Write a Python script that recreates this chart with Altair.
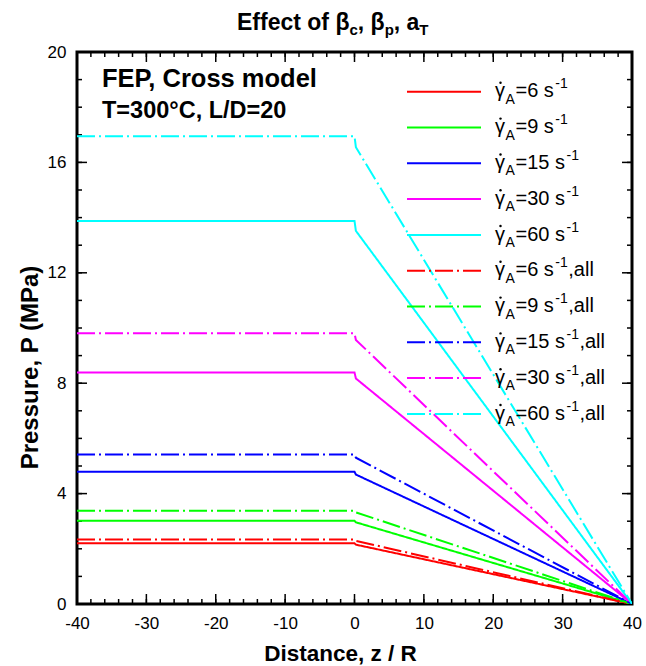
import altair as alt
import pandas as pd

# ---------------- data ----------------
rates = [6, 9, 15, 30, 60]
colors = ["#ff0000", "#00ff00", "#0000ff", "#ff00ff", "#00ffff"]
z_knots = [-40, 0, 0.2, 40]
p_flat_base = [2.20, 3.02, 4.79, 8.39, 13.88]
p_drop_base = [2.15, 2.96, 4.69, 8.17, 13.52]
p_flat_all = [2.34, 3.38, 5.42, 9.81, 16.95]
p_drop_all = [2.29, 3.32, 5.30, 9.57, 16.55]
p_exit = [0.0, 0.0, 0.0, 0.0, 0.0]
x_major = [-40, -30, -20, -10, 0, 10, 20, 30, 40]
x_minor = list(range(-40, 41, 2))
y_major = [0, 4, 8, 12, 16, 20]
y_minor = list(range(0, 21, 1))

W, H = 555, 552
FONT = "Liberation Sans"
XMIN, XMAX, YMIN, YMAX = -40, 40, 0, 20

rows = []
for kind, flat, drop in [("base", p_flat_base, p_drop_base), ("all", p_flat_all, p_drop_all)]:
    for i, r in enumerate(rates):
        ps = [flat[i], flat[i], drop[i], p_exit[i]]
        for k, (z, p) in enumerate(zip(z_knots, ps)):
            rows.append(dict(series=f"{r}-{kind}", rate=str(r), kind=kind, z=z, p=p, k=k))
df = pd.DataFrame(rows)

x_scale = alt.Scale(domain=[XMIN, XMAX], nice=False, zero=False)
y_scale = alt.Scale(domain=[YMIN, YMAX], nice=False, zero=False)

x_axis = alt.Axis(values=x_major, ticks=False, domain=False, grid=False, labelFlush=False,
                  labelExpr="'' + datum.value",
                  labelFont=FONT, labelFontSize=17, labelColor="black", labelPadding=11,
                  title="Distance, z / R", titleFont=FONT, titleFontSize=22.5, titleFontWeight="bold",
                  titleColor="black", titlePadding=11, titleX=263)
y_axis = alt.Axis(values=y_major, ticks=False, domain=False, grid=False, labelFlush=False,
                  labelExpr="'' + datum.value",
                  labelFont=FONT, labelFontSize=17, labelColor="black", labelPadding=11,
                  title="Pressure, P (MPa)", titleFont=FONT, titleFontSize=24, titleFontWeight="bold",
                  titleColor="black", titlePadding=5, titleY=315)


def xenc(field="z"):
    return alt.X(f"{field}:Q", scale=x_scale, axis=x_axis)


def yenc(field="p"):
    return alt.Y(f"{field}:Q", scale=y_scale, axis=y_axis)


DASHDOT = [18, 4, 2, 4]

lines = alt.Chart(df).mark_line(strokeWidth=2, clip=True).encode(
    x=xenc(), y=yenc(),
    color=alt.Color("rate:N", scale=alt.Scale(domain=[str(r) for r in rates], range=colors), legend=None),
    strokeDash=alt.StrokeDash("kind:N", scale=alt.Scale(domain=["base", "all"], range=[[1, 0], DASHDOT]), legend=None),
    detail="series:N",
    order="k:Q",
)

layers = []

# inward ticks on all four sides (tick marks centred half a length inside the frame)
for vals, ln in [(x_major, 10), (x_minor, 5)]:
    d = pd.DataFrame({"z": vals})
    for ypix in [H - ln / 2, ln / 2]:
        layers.append(alt.Chart(d).mark_tick(color="black", thickness=1.5, size=ln, orient="vertical",
                                             opacity=1).encode(x=xenc(), y=alt.value(ypix)))
for vals, ln in [(y_major, 10), (y_minor, 5)]:
    d = pd.DataFrame({"p": vals})
    for xpix in [ln / 2, W - ln / 2]:
        layers.append(alt.Chart(d).mark_tick(color="black", thickness=1.5, size=ln, orient="horizontal",
                                             opacity=1).encode(y=yenc(), x=alt.value(xpix)))

layers.append(lines)

# --- text width helper (Arial / Liberation Sans metrics) ---
REG = {" ": 278, ",": 278, "-": 333, "=": 584, "s": 500, "a": 556, "l": 222, "A": 667, "γ": 500}
for ch in "0123456789":
    REG[ch] = 556
BOLD = {"E": 667, "f": 333, "e": 556, "c": 556, "t": 333, " ": 278, "o": 611, "β": 611,
        ",": 278, "p": 611, "a": 556, "T": 611}


def tw(s, size, bold=False):
    tab = BOLD if bold else REG
    return sum(tab.get(c, 556) for c in s) * size / 1000.0


def text_layer(t, x, y, size, bold=False, color="black"):
    return alt.Chart(pd.DataFrame({"t": [t]})).mark_text(
        align="left", baseline="alphabetic", font=FONT, fontSize=size,
        fontWeight="bold" if bold else "normal", color=color
    ).encode(text="t:N", x=alt.value(x), y=alt.value(y))


# title with subscripts
tx, ty = 160, -22
big, small = 23, 15
for piece, sub in [("Effect of β", "c"), (", β", "p"), (", a", "T")]:
    layers.append(text_layer(piece, tx, ty, big, True))
    tx += tw(piece, big, True)
    layers.append(text_layer(sub, tx, ty + 5, small, True))
    tx += tw(sub, small, True)

# annotation
layers.append(text_layer("FEP, Cross model", 25, 35, 25.5, True))
layers.append(text_layer("T=300°C, L/D=20", 25, 66, 23.5, True))

# custom legend
LS, SS = 20, 14
for j, kind in enumerate(["base", "all"]):
    for i, r in enumerate(rates):
        row = j * 5 + i
        ly = 39.7 + 35.8 * row
        by = 45.3 + 35.8 * row
        layers.append(alt.Chart(pd.DataFrame({"a": [0]})).mark_rule(
            color=colors[i], strokeWidth=2, strokeDash=[1, 0] if kind == "base" else DASHDOT
        ).encode(x=alt.value(330), x2=alt.value(404), y=alt.value(ly)))
        x0 = 418
        layers.append(text_layer("γ", x0, by, LS))
        layers.append(alt.Chart(pd.DataFrame({"a": [0]})).mark_circle(
            color="black", opacity=1, size=6
        ).encode(x=alt.value(x0 + 5.5), y=alt.value(by - 14.5)))
        layers.append(text_layer("A", x0 + 10.5, by + 6.5, SS))
        x3 = x0 + 20.5
        mid = f"={r} s"
        layers.append(text_layer(mid, x3, by, LS))
        x4 = x3 + tw(mid, LS) + 1.5
        layers.append(text_layer("-1", x4, by - 9, SS))
        if kind == "all":
            x5 = x4 + tw("-1", SS) + 0.5
            layers.append(text_layer(",all", x5, by, LS))

chart = alt.layer(*layers).properties(
    width=W, height=H,
    background="white",
    autosize=alt.AutoSizeParams(type="none"),
    padding={"left": 77, "top": 52, "right": 14, "bottom": 62},
).configure_view(stroke="black", strokeWidth=3)

chart.save("out.html", embed_options={"renderer": "svg", "actions": False})
